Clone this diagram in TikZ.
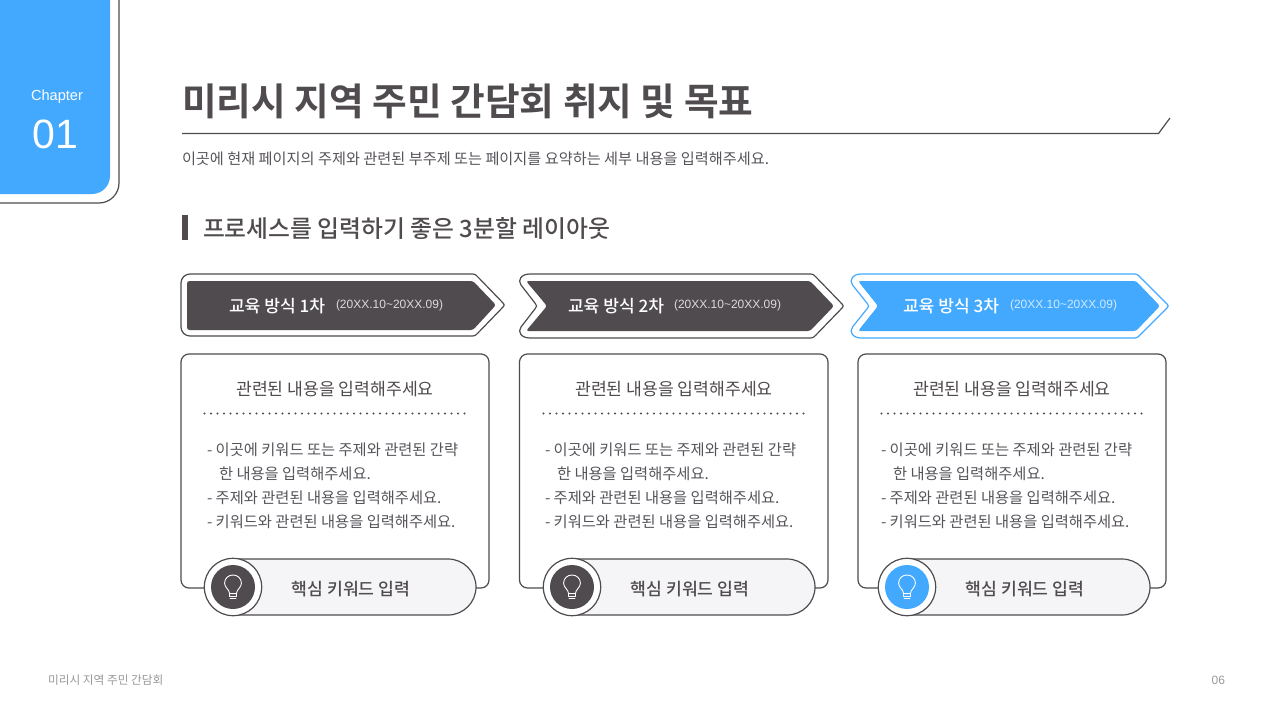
\documentclass[tikz,border=0pt]{standalone}
\usepackage{fontspec}
\setmainfont{Noto Sans CJK KR}[BoldFont={Noto Sans CJK KR Bold}]
\newfontfamily\krmed{Noto Sans CJK KR Medium}
\newfontfamily\lat{Liberation Sans}
\definecolor{ink}{HTML}{4F4B4E}
\definecolor{body}{HTML}{57535A}
\definecolor{sky}{HTML}{42A9FF}
\definecolor{pale}{HTML}{F5F4F6}
\definecolor{muted}{HTML}{9A989B}
\tikzset{
  txt/.style={inner sep=0pt,outer sep=0pt,text=body},
  cardline/.style={draw=ink,line width=1.2pt,fill=white,rounded corners=8pt},
  outline/.style={line width=1.2pt,fill=white},
  inner/.style={draw=none,rounded corners=2.5pt},
  bodytext/.style={txt,anchor=west,font=\fontsize{15.3}{15.3}\selectfont},
  bulb/.style={draw=white,line width=0.9pt,line cap=round,line join=round,fill=none},
}
\newcommand{\kw}[2]{{\fontsize{#1}{#1}\selectfont #2}}
\begin{document}
\begin{tikzpicture}[x=1pt,y=-1pt]
\useasboundingbox[fill=white] (0,0) rectangle (1280,720);
% chapter tab
\draw[draw=ink,line width=1.2pt] (119,-2) -- (119,183) arc[start angle=0,end angle=90,radius=20] -- (-2,203);
\fill[sky] (-2,-2) -- (110,-2) -- (110,176) arc[start angle=0,end angle=90,radius=18] -- (-2,194) -- cycle;
\node[txt,text=white] (chap) at (57,97) {\lat\kw{14.6}{Chapter}};
\node[txt,text=white] (num) at (55.5,134.5) {\lat\kw{41}{01}};
% title
\node[txt,anchor=west,text=ink,font=\bfseries] (title) at (182,101) {\kw{37.7}{미리시 지역 주민 간담회 취지 및 목표}};
\draw[draw=ink,line width=1.2pt] (182,133.5) -- (1158.5,133.5) -- (1170,118);
\node[txt,anchor=west] (sub) at (182,158.5) {\kw{15.2}{이곳에 현재 페이지의 주제와 관련된 부주제 또는 페이지를 요약하는 세부 내용을 입력해주세요.}};
\fill[ink] (182,215) rectangle (188,240);
\node[txt,anchor=west,text=ink,font=\krmed] (sect) at (203,229) {\kw{23.8}{프로세스를 입력하기 좋은 3분할 레이아웃}};
% banners
\draw[outline,draw=ink] (190,274) -- (470,274) .. controls (475,274) .. (478.5,277.6) -- (501.5,301.4) .. controls (505,305) .. (501.5,308.6) -- (478.5,332.4) .. controls (475,336) .. (470,336) -- (190,336) .. controls (185,336) and (181,332) .. (181,327) -- (181,283) .. controls (181,278) and (185,274) .. (190,274) -- cycle;
\fill[inner,ink] (187,281) -- (473,281) -- (496,305) -- (473,330) -- (187,330) -- cycle;
\draw[outline,draw=ink] (530,274) -- (808,274) .. controls (813,274) .. (816.5,277.6) -- (840.5,302.4) .. controls (844,306) .. (840.5,309.6) -- (816.5,334.4) .. controls (813,338) .. (808,338) -- (530,338) .. controls (521,338) and (517.4,331.8) .. (521,327) -- (535.3,308.5) .. controls (537,306) .. (535.3,303.5) -- (521,285) .. controls (517.4,280.2) and (521,274) .. (530,274) -- cycle;
\fill[inner,ink] (526,281) -- (810,281) -- (834,306) -- (810,331) -- (526,331) -- (547,306) -- cycle;
\draw[outline,draw=sky] (861.5,274) -- (1132,274) .. controls (1137,274) .. (1140.5,277.5) -- (1165.5,302.5) .. controls (1169,306) .. (1165.5,309.5) -- (1140.5,334.5) .. controls (1137,338) .. (1132,338) -- (861.5,338) .. controls (852.5,338) and (848.9,331.8) .. (852.5,327) -- (867.3,308.5) .. controls (869,306) .. (867.3,303.5) -- (852.5,285) .. controls (848.9,280.2) and (852.5,274) .. (861.5,274) -- cycle;
\fill[inner,sky] (858,281) -- (1136,281) -- (1160,306) -- (1136,331) -- (858,331) -- (878,306) -- cycle;
\node[txt,anchor=west,text=white,font=\krmed] (b1) at (229,306) {\kw{17.1}{교육 방식 1차}};
\node[txt,anchor=west,text=white!80!ink] (d1) at (336,305.5) {\lat\kw{12}{(20XX.10\textasciitilde20XX.09)}};
\node[txt,anchor=west,text=white,font=\krmed] (b2) at (568,306) {\kw{17.1}{교육 방식 2차}};
\node[txt,anchor=west,text=white!80!ink] (d2) at (674,305.5) {\lat\kw{12}{(20XX.10\textasciitilde20XX.09)}};
\node[txt,anchor=west,text=white,font=\krmed] (b3) at (903,306) {\kw{17.1}{교육 방식 3차}};
\node[txt,anchor=west,text=white!75!sky] (d3) at (1010,305.5) {\lat\kw{12}{(20XX.10\textasciitilde20XX.09)}};
% cards
\foreach \id/\cx/\cw/\hx/\bx/\px/\accent in {1/181/308/0/0/0/ink,2/519.5/308.5/339/338/339/ink,3/858/308/677/674/674/sky}{
  \draw[cardline] (\cx,588) -- (\cx,354) -- (\cx+\cw,354) -- (\cx+\cw,588) -- cycle;
  \node[txt,text=ink] (head\id) at (335+\hx,389) {\kw{17.2}{관련된 내용을 입력해주세요}};
  \draw[draw=ink,line width=2.2pt,line cap=round,dash pattern=on 0pt off 6.5pt] (204.5+\hx,413.5) -- (465+\hx,413.5);
  \node[bodytext] (la\id) at (207+\bx,449.5) {- 이곳에 키워드 또는 주제와 관련된 간략};
  \node[bodytext] (lb\id) at (219+\bx,473.5) {한 내용을 입력해주세요.};
  \node[bodytext] (lc\id) at (207+\bx,497.5) {- 주제와 관련된 내용을 입력해주세요.};
  \node[bodytext] (ld\id) at (207+\bx,521.5) {- 키워드와 관련된 내용을 입력해주세요.};
  % pill
  \draw[draw=ink,line width=1.2pt,fill=pale] (233+\px,559) -- (448+\px,559) arc[start angle=-90,end angle=90,radius=28] -- (233+\px,615) -- cycle;
  \draw[draw=ink,line width=1.2pt,fill=white] (233+\px,587) circle[radius=28.7];
  \fill[\accent] (233+\px,587) circle[radius=22];
  \node[txt,text=ink,font=\krmed] (key\id) at (351+\px,589) {\kw{17.2}{핵심 키워드 입력}};
  % bulb
  \begin{scope}[shift={(233+\px,584)}]
    \draw[bulb] (-3.4,9.6) .. controls (-3.6,5.5) and (-8.4,3.5) .. (-8.4,-0.8) .. controls (-8.4,-5.7) and (-4.6,-9) .. (0,-9) .. controls (4.6,-9) and (8.4,-5.7) .. (8.4,-0.8) .. controls (8.4,3.5) and (3.6,5.5) .. (3.4,9.6) -- cycle;
    \draw[bulb] (-3.4,12.2) -- (3.4,12.2);
    \draw[bulb] (-3,14.8) -- (3,14.8);
    \draw[bulb] (-3.4,9.6) -- (-3.4,12.2) (3.4,9.6) -- (3.4,12.2);
  \end{scope}
}
% footer
\node[txt,anchor=west,text=muted] (foot) at (48,680) {\kw{11.7}{미리시 지역 주민 간담회}};
\node[txt,anchor=east,text=muted] (page) at (1225,680) {\lat\kw{12}{06}};
\end{tikzpicture}
\end{document}
